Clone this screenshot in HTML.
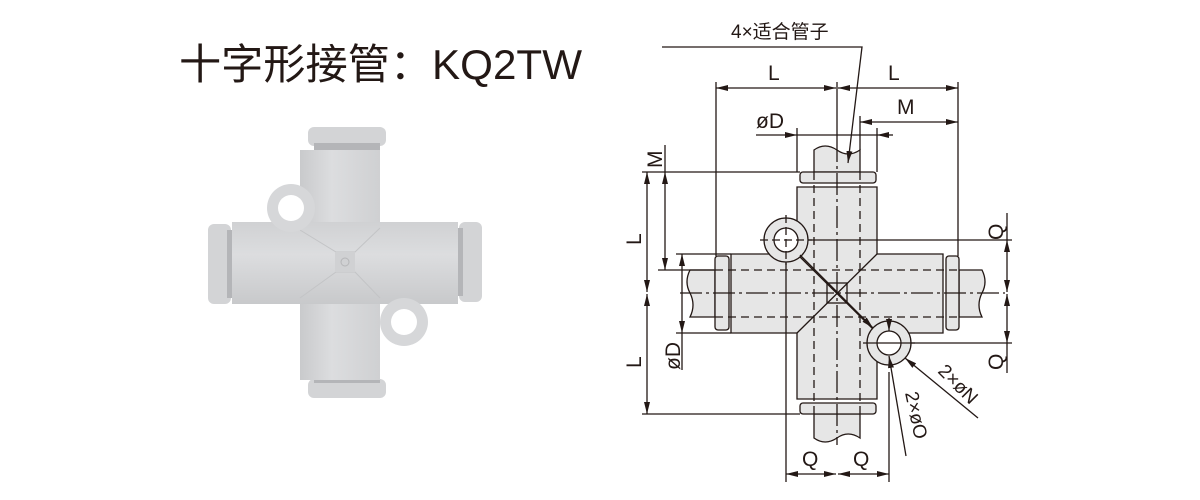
<!DOCTYPE html>
<html><head><meta charset="utf-8"><style>
html,body{margin:0;padding:0;background:#fff;width:1200px;height:500px;overflow:hidden}
svg{display:block}
text{font-family:"Liberation Sans","Noto Sans CJK SC",sans-serif;fill:#231815}
</style></head><body>
<svg width="1200" height="500" viewBox="0 0 1200 500">
<defs>
<marker id="a" viewBox="0 0 12 6" refX="12" refY="3" markerWidth="12" markerHeight="6" orient="auto-start-reverse" markerUnits="userSpaceOnUse"><path d="M0,0L12,3L0,6Z" fill="#231815"/></marker>
<linearGradient id="gv" x1="0" y1="0" x2="1" y2="0"><stop offset="0" stop-color="#c9cacc"/><stop offset="0.4" stop-color="#dcdddf"/><stop offset="1" stop-color="#cfd0d2"/></linearGradient>
<linearGradient id="gh" x1="0" y1="0" x2="0" y2="1"><stop offset="0" stop-color="#d0d1d3"/><stop offset="0.4" stop-color="#dcdddf"/><stop offset="1" stop-color="#c8c9cb"/></linearGradient>
</defs>
<text x="179" y="79" font-size="42" textLength="403" lengthAdjust="spacingAndGlyphs">十字形接管：KQ2TW</text>

<!-- photo -->
<rect x="308" y="127" width="78" height="19" rx="6" fill="#d3d4d6"/>
<rect x="308" y="379" width="78" height="19" rx="6" fill="#d3d4d6"/>
<rect x="208" y="224" width="23" height="80" rx="6" fill="#d3d4d6"/>
<rect x="459" y="222" width="23" height="80" rx="6" fill="#d3d4d6"/>
<rect x="314" y="143" width="66" height="8" fill="#b4b5b8"/>
<rect x="314" y="375" width="66" height="8" fill="#b4b5b8"/>
<rect x="227" y="230" width="8" height="68" fill="#b4b5b8"/>
<rect x="455" y="228" width="8" height="68" fill="#b4b5b8"/>
<rect x="300" y="150" width="80" height="230" fill="url(#gv)"/>
<rect x="232" y="222" width="226" height="82" fill="url(#gh)"/>
<path d="M300,230 L336,252 L355,252 L380,228 M300,298 L336,272 L355,272 L380,298" stroke="#c3c4c6" fill="none"/>
<circle cx="291" cy="208" r="24" fill="#d6d7d9"/>
<circle cx="404" cy="322" r="24" fill="#d6d7d9"/>
<circle cx="291" cy="208" r="13" fill="#fff"/>
<circle cx="404" cy="322" r="13" fill="#fff"/>
<rect x="335" y="252" width="20" height="20" fill="#d0d1d3"/>
<circle cx="345" cy="262" r="4" fill="none" stroke="#b5b6b8"/>

<!-- drawing -->
<g stroke="#231815" stroke-width="1.3" fill="none">
<path d="M814,150 Q825,142 837,150 Q848,158 860,150 L860,172 L814,172Z" fill="#e6e6e6"/>
<path d="M814,438 Q825,446 837,438 Q848,430 860,438 L860,414 L814,414Z" fill="#e6e6e6"/>
<path d="M690,270 Q684,282 690,293 Q696,305 690,317 L715,317 L715,270Z" fill="#e6e6e6"/>
<path d="M982,270 Q988,282 982,293 Q976,305 982,317 L959,317 L959,270Z" fill="#e6e6e6"/>
<path d="M797,187 L877,187 L877,254 L943,254 L943,333 L877,333 L877,399 L797,399 L797,333 L731,333 L731,254 L797,254Z" fill="#e6e6e6"/>
<rect x="800" y="172" width="76" height="11" rx="3" fill="#e6e6e6"/>
<rect x="800" y="403" width="76" height="11" rx="3" fill="#e6e6e6"/>
<rect x="715" y="256" width="14" height="74" rx="3" fill="#e6e6e6"/>
<rect x="946" y="256" width="13" height="74" rx="3" fill="#e6e6e6"/>
<line x1="877" y1="254" x2="797" y2="333"/>
<line x1="797" y1="254" x2="877" y2="333"/>
<rect x="827" y="283" width="20" height="20"/>
<g stroke-dasharray="8,5">
<line x1="814" y1="172" x2="814" y2="414"/><line x1="860" y1="172" x2="860" y2="414"/>
<line x1="715" y1="270" x2="959" y2="270"/><line x1="715" y1="317" x2="959" y2="317"/>
</g>
<g stroke-dasharray="22,4,3,4">
<line x1="837" y1="140" x2="837" y2="445"/>
<line x1="680" y1="293" x2="1005" y2="293"/>
</g>
<circle cx="786" cy="240" r="22" fill="#e6e6e6"/><circle cx="786" cy="240" r="12" fill="#fff"/>
<circle cx="889" cy="343" r="22" fill="#e6e6e6"/><circle cx="889" cy="343" r="12" fill="#fff"/>
<line x1="760" y1="240" x2="812" y2="240" stroke-dasharray="8,4"/><line x1="786" y1="215" x2="786" y2="265" stroke-dasharray="8,4"/>
<line x1="863" y1="343" x2="915" y2="343"/>
<line x1="716" y1="82" x2="716" y2="256"/>
<line x1="958" y1="82" x2="958" y2="256"/>
<line x1="837" y1="82" x2="837" y2="140"/>
<line x1="860" y1="116" x2="860" y2="150"/>
<line x1="797" y1="128" x2="797" y2="172"/>
<line x1="877" y1="128" x2="877" y2="172"/>
<line x1="642" y1="172" x2="800" y2="172"/>
<line x1="642" y1="414" x2="800" y2="414"/>
<line x1="658" y1="270" x2="714" y2="270"/>
<line x1="676" y1="254" x2="731" y2="254"/>
<line x1="676" y1="333" x2="731" y2="333"/>
<line x1="665" y1="145" x2="665" y2="172"/>
<line x1="786" y1="262" x2="786" y2="482"/>
<line x1="889" y1="372" x2="889" y2="482"/>
<line x1="808" y1="240" x2="1012" y2="240"/>
<line x1="911" y1="343" x2="1012" y2="343"/>
<line x1="1007" y1="213" x2="1007" y2="240"/>
<line x1="1007" y1="343" x2="1007" y2="373"/>
<line x1="716" y1="88" x2="836" y2="88" marker-start="url(#a)" marker-end="url(#a)"/>
<line x1="838" y1="88" x2="958" y2="88" marker-start="url(#a)" marker-end="url(#a)"/>
<line x1="860" y1="122" x2="958" y2="122" marker-start="url(#a)" marker-end="url(#a)"/>
<line x1="756" y1="135" x2="797" y2="135" marker-end="url(#a)"/>
<line x1="877" y1="135" x2="797" y2="135"/>
<line x1="893" y1="135" x2="877" y2="135" marker-end="url(#a)"/>
<line x1="647" y1="172" x2="647" y2="292" marker-start="url(#a)" marker-end="url(#a)"/>
<line x1="647" y1="294" x2="647" y2="414" marker-start="url(#a)" marker-end="url(#a)"/>
<line x1="665" y1="172" x2="665" y2="270" marker-start="url(#a)" marker-end="url(#a)"/>
<line x1="682" y1="254" x2="682" y2="333" marker-start="url(#a)" marker-end="url(#a)"/>
<line x1="682" y1="333" x2="682" y2="370"/>
<line x1="1007" y1="240" x2="1007" y2="292" marker-start="url(#a)" marker-end="url(#a)"/>
<line x1="1007" y1="294" x2="1007" y2="343" marker-start="url(#a)" marker-end="url(#a)"/>
<line x1="786" y1="474" x2="836" y2="474" marker-start="url(#a)" marker-end="url(#a)"/>
<line x1="838" y1="474" x2="889" y2="474" marker-start="url(#a)" marker-end="url(#a)"/>
<polyline points="662,47 862,47 848,163" marker-end="url(#a)"/>
<line x1="800" y1="255" x2="873" y2="328" marker-end="url(#a)"/>
<line x1="978" y1="418" x2="905" y2="358" marker-end="url(#a)"/>
<line x1="906" y1="456" x2="889" y2="356" marker-end="url(#a)"/>
<line x1="889" y1="318" x2="889" y2="331" marker-end="url(#a)"/>
</g>
<g font-size="21">
<text x="731" y="38" font-size="19">4×适合管子</text>
<text x="768" y="80">L</text>
<text x="888" y="80">L</text>
<text x="897" y="114">M</text>
<text x="756" y="128">øD</text>
<text transform="translate(662,168) rotate(-90)">M</text>
<text transform="translate(641,245) rotate(-90)">L</text>
<text transform="translate(641,368) rotate(-90)">L</text>
<text transform="translate(680,370) rotate(-90)">øD</text>
<text transform="translate(1003,240) rotate(-90)">Q</text>
<text transform="translate(1003,370) rotate(-90)">Q</text>
<text x="802" y="466">Q</text>
<text x="853" y="466">Q</text>
<text transform="translate(937,372) rotate(45)" font-size="19">2×øN</text>
<text transform="translate(905,393) rotate(78)" font-size="19">2×øO</text>
</g>
</svg>
</body></html>
